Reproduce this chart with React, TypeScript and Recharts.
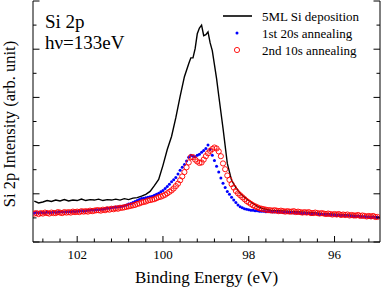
import React from "react";
import { ComposedChart, Line, XAxis, YAxis } from "recharts";

const FONT = "'Liberation Serif', 'Times New Roman', serif";

// 5ML Si deposition (black line)
const depoEnergy = [
  103.0, 102.9, 102.8, 102.7, 102.6, 102.5, 102.4, 102.3, 102.2, 102.1,
  102.0, 101.9, 101.8, 101.7, 101.6, 101.5, 101.4, 101.3, 101.2, 101.1,
  101.0, 100.9, 100.8, 100.7, 100.6, 100.5, 100.4, 100.3, 100.2, 100.1,
  100.0, 99.9, 99.8, 99.7, 99.6, 99.5, 99.4, 99.35, 99.3, 99.25,
  99.2, 99.15, 99.1, 99.05, 99.0, 98.95, 98.9, 98.85, 98.8, 98.75,
  98.7, 98.6, 98.5, 98.4, 98.3, 98.2, 98.1, 98.0, 97.9, 97.8,
  97.7, 97.6, 97.5, 97.3, 97.1, 96.9, 96.7, 96.5, 96.3, 96.1,
  95.9, 95.7, 95.5, 95.3, 95.1, 94.95,
];
const depoIntensity = [
  0.85, 0.81, 0.83, 0.86, 0.84, 0.87, 0.85, 0.88, 0.85, 0.87,
  0.86, 0.89, 0.86, 0.88, 0.87, 0.89, 0.86, 0.88, 0.87, 0.89,
  0.87, 0.9, 0.88, 0.91, 0.92, 0.95, 0.99, 1.05, 1.17, 1.3,
  1.59, 1.92, 2.19, 2.58, 3.02, 3.43, 3.7, 3.82, 3.82, 4.01,
  4.32, 4.44, 4.5, 4.28, 4.3, 4.36, 4.13, 3.97, 3.68, 3.39,
  3.04, 2.36, 1.63, 1.28, 1.13, 1.01, 0.93, 0.86, 0.8, 0.74,
  0.7, 0.68, 0.66, 0.65, 0.64, 0.63, 0.62, 0.61, 0.59, 0.58,
  0.57, 0.56, 0.55, 0.53, 0.53, 0.52,
];

// both annealing scans: 103.00 eV down to 95.00 eV in 0.05 eV steps
const scanEnergy = Array.from({ length: 161 }, (_, i) => +(103 - i * 0.05).toFixed(2));

// 1st 20s annealing (blue dots), one row per 0.5 eV
const ann1Intensity = [
  0.6, 0.61, 0.6, 0.61, 0.61, 0.6, 0.62, 0.61, 0.61, 0.62,
  0.61, 0.62, 0.62, 0.63, 0.62, 0.62, 0.63, 0.63, 0.64, 0.63,
  0.64, 0.64, 0.65, 0.64, 0.65, 0.66, 0.66, 0.67, 0.66, 0.67,
  0.67, 0.68, 0.68, 0.69, 0.7, 0.7, 0.71, 0.72, 0.72, 0.73,
  0.73, 0.74, 0.75, 0.77, 0.79, 0.8, 0.82, 0.84, 0.86, 0.88,
  0.9, 0.91, 0.92, 0.93, 0.94, 0.95, 0.97, 0.99, 1.01, 1.04,
  1.07, 1.11, 1.15, 1.2, 1.25, 1.29, 1.34, 1.41, 1.49, 1.55,
  1.61, 1.68, 1.76, 1.8, 1.78, 1.77, 1.8, 1.82, 1.86, 1.9,
  1.94, 2.01, 1.92, 1.8, 1.69, 1.57, 1.45, 1.33, 1.22, 1.13,
  1.05, 0.99, 0.93, 0.87, 0.82, 0.77, 0.73, 0.71, 0.69, 0.68,
  0.67, 0.66, 0.66, 0.65, 0.65, 0.64, 0.64, 0.64, 0.63, 0.64,
  0.63, 0.63, 0.62, 0.63, 0.62, 0.62, 0.61, 0.62, 0.61, 0.61,
  0.61, 0.6, 0.61, 0.6, 0.6, 0.59, 0.6, 0.59, 0.59, 0.58,
  0.58, 0.59, 0.58, 0.57, 0.58, 0.57, 0.57, 0.56, 0.57, 0.56,
  0.56, 0.55, 0.56, 0.55, 0.55, 0.54, 0.55, 0.54, 0.54, 0.53,
  0.53, 0.54, 0.53, 0.52, 0.53, 0.52, 0.52, 0.51, 0.52, 0.51,
  0.51,
];

// 2nd 10s annealing (red open circles), one row per 0.5 eV
const ann2Intensity = [
  0.59, 0.6, 0.58, 0.6, 0.59, 0.61, 0.6, 0.59, 0.61, 0.6,
  0.6, 0.62, 0.61, 0.6, 0.62, 0.61, 0.62, 0.61, 0.63, 0.62,
  0.63, 0.62, 0.64, 0.63, 0.64, 0.63, 0.65, 0.64, 0.65, 0.66,
  0.66, 0.65, 0.67, 0.66, 0.68, 0.67, 0.69, 0.68, 0.7, 0.69,
  0.71, 0.71, 0.72, 0.73, 0.74, 0.75, 0.76, 0.77, 0.79, 0.8,
  0.82, 0.83, 0.84, 0.86, 0.87, 0.88, 0.89, 0.91, 0.93, 0.94,
  0.96, 0.98, 1.01, 1.04, 1.07, 1.11, 1.16, 1.21, 1.28, 1.36,
  1.45, 1.55, 1.65, 1.76, 1.76, 1.71, 1.67, 1.64, 1.65, 1.71,
  1.78, 1.84, 1.89, 1.93, 1.96, 1.94, 1.88, 1.78, 1.63, 1.51,
  1.38, 1.29, 1.2, 1.13, 1.06, 1.01, 0.97, 0.93, 0.89, 0.85,
  0.82, 0.79, 0.76, 0.74, 0.72, 0.7, 0.69, 0.68, 0.67, 0.66,
  0.66, 0.65, 0.66, 0.65, 0.64, 0.65, 0.64, 0.63, 0.64, 0.63,
  0.63, 0.64, 0.62, 0.63, 0.62, 0.61, 0.62, 0.61, 0.62, 0.6,
  0.6, 0.61, 0.6, 0.59, 0.6, 0.59, 0.58, 0.59, 0.58, 0.57,
  0.58, 0.57, 0.58, 0.56, 0.57, 0.56, 0.57, 0.55, 0.56, 0.55,
  0.55, 0.56, 0.54, 0.55, 0.54, 0.53, 0.54, 0.53, 0.54, 0.52,
  0.52,
];

const xMajor = [102, 100, 98, 96];
const xMinor = [
  102.8, 102.4, 101.6, 101.2, 100.8, 100.4, 99.6, 99.2, 98.8, 98.4,
  97.6, 97.2, 96.8, 96.4, 95.6, 95.2,
];
const yMajor = [0, 1, 2, 3, 4, 5];
const yMinor = [0.5, 1.5, 2.5, 3.5, 4.5];

const X_DOMAIN: [number, number] = [94.94, 103.03];
const Y_DOMAIN: [number, number] = [0, 5];

const zip = (e: number[], v: number[]) => e.map((x, i) => ({ e: x, v: v[i] }));
const depoData = zip(depoEnergy, depoIntensity);
const ann1Data = zip(scanEnergy, ann1Intensity);
const ann2Data = zip(scanEnergy, ann2Intensity);

const isMajorX = (v: number) => xMajor.some((m) => Math.abs(m - v) < 1e-6);
const isMajorY = (v: number) => yMajor.some((m) => Math.abs(m - v) < 1e-6);

function BottomTick({ x, y, payload }: any) {
  const major = isMajorX(payload.value);
  return (
    <g>
      <line x1={x} y1={y} x2={x} y2={y - (major ? 6 : 3.5)} stroke="#000" />
      {major && (
        <text x={x} y={y + 17} textAnchor="middle" fontSize={13} fontFamily={FONT} fill="#000">
          {payload.value}
        </text>
      )}
    </g>
  );
}

function TopTick({ x, y, payload }: any) {
  const major = isMajorX(payload.value);
  return <line x1={x} y1={y} x2={x} y2={y + (major ? 6 : 3.5)} stroke="#000" />;
}

function LeftTick({ x, y, payload }: any) {
  const major = isMajorY(payload.value);
  return <line x1={x} y1={y} x2={x + (major ? 6.5 : 3.5)} y2={y} stroke="#000" />;
}

function RightTick({ x, y, payload }: any) {
  const major = isMajorY(payload.value);
  return <line x1={x} y1={y} x2={x - (major ? 6.5 : 3.5)} y2={y} stroke="#000" />;
}

export default function App() {
  const xTicks = [...xMajor, ...xMinor];
  const yTicks = [...yMajor, ...yMinor];
  return (
    <div style={{ position: "absolute", left: 0, top: 0, width: 382, height: 292, background: "#fff" }}>
      <ComposedChart width={382} height={292} margin={{ top: 1, right: 1, bottom: 0, left: 0 }}>
        <XAxis
          xAxisId="b"
          dataKey="e"
          type="number"
          domain={X_DOMAIN}
          reversed
          allowDataOverflow
          ticks={xTicks}
          interval={0}
          tick={<BottomTick />}
          tickLine={false}
          tickSize={0}
          tickMargin={0}
          height={50}
          axisLine={{ stroke: "#000" }}
        />
        <XAxis
          xAxisId="t"
          orientation="top"
          dataKey="e"
          type="number"
          domain={X_DOMAIN}
          reversed
          allowDataOverflow
          ticks={xTicks}
          interval={0}
          tick={<TopTick />}
          tickLine={false}
          tickSize={0}
          tickMargin={0}
          height={0}
          axisLine={{ stroke: "#000" }}
        />
        <YAxis
          yAxisId="l"
          type="number"
          domain={Y_DOMAIN}
          allowDataOverflow
          ticks={yTicks}
          interval={0}
          tick={<LeftTick />}
          tickLine={false}
          tickSize={0}
          tickMargin={0}
          width={33}
          axisLine={{ stroke: "#000" }}
        />
        <YAxis
          yAxisId="r"
          orientation="right"
          type="number"
          domain={Y_DOMAIN}
          allowDataOverflow
          ticks={yTicks}
          interval={0}
          tick={<RightTick />}
          tickLine={false}
          tickSize={0}
          tickMargin={0}
          width={1}
          axisLine={{ stroke: "#000" }}
        />
        <Line
          data={depoData}
          dataKey="v"
          xAxisId="b"
          yAxisId="l"
          type="linear"
          stroke="#000"
          strokeWidth={1.4}
          dot={false}
          activeDot={false}
          isAnimationActive={false}
        />
        <Line
          data={ann1Data}
          dataKey="v"
          xAxisId="b"
          yAxisId="l"
          type="linear"
          stroke="none"
          dot={{ r: 1.5, fill: "#0000ff", stroke: "none" }}
          activeDot={false}
          isAnimationActive={false}
        />
        <Line
          data={ann2Data}
          dataKey="v"
          xAxisId="b"
          yAxisId="l"
          type="linear"
          stroke="none"
          dot={{ r: 2.6, fill: "none", stroke: "#ff0000", strokeWidth: 0.9 }}
          activeDot={false}
          isAnimationActive={false}
        />
      </ComposedChart>
      <svg
        width={382}
        height={292}
        style={{ position: "absolute", left: 0, top: 0, pointerEvents: "none" }}
        fontFamily={FONT}
      >
        <text x={45} y={28} fontSize={19}>Si 2p</text>
        <text x={45} y={49} fontSize={19}>hν=133eV</text>

        <line x1={223} y1={16} x2={252} y2={16} stroke="#000" strokeWidth={1.6} />
        <text x={262} y={20.5} fontSize={13}>5ML Si deposition</text>
        <circle cx={237} cy={33} r={1.5} fill="#0000ff" />
        <text x={262} y={37.5} fontSize={13}>1st 20s annealing</text>
        <circle cx={237} cy={50} r={2.6} fill="none" stroke="#ff0000" strokeWidth={0.9} />
        <text x={262} y={54.5} fontSize={13}>2nd 10s annealing</text>

        <text x={206.5} y={283} fontSize={17} textAnchor="middle">Binding Energy (eV)</text>
        <text x={15} y={124} fontSize={16.5} textAnchor="middle" transform="rotate(-90 15 124)">
          Si 2p Intensity (arb. unit)
        </text>
      </svg>
    </div>
  );
}
